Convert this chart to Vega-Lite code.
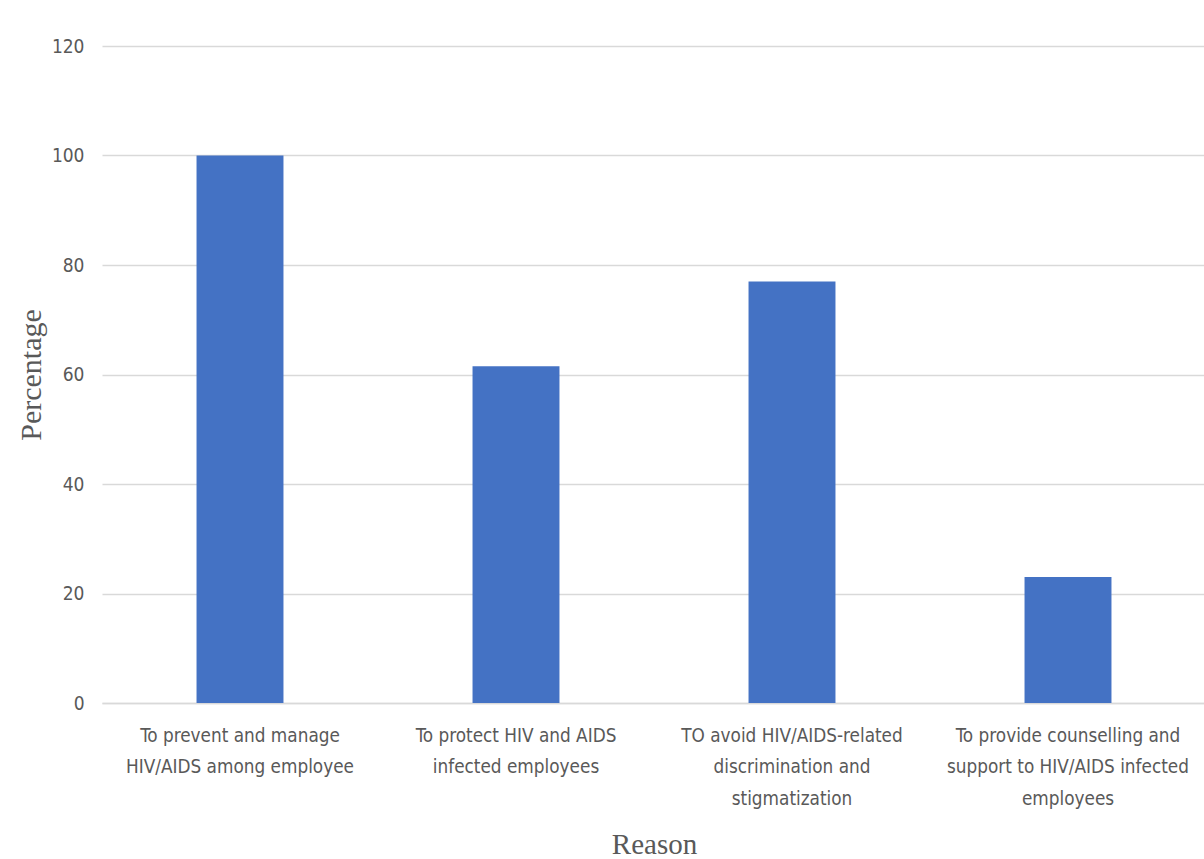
{
  "$schema": "https://vega.github.io/schema/vega-lite/v6.json",
  "width": 1104,
  "height": 657,
  "autosize": {"type": "none"},
  "padding": {"left": 102, "top": 46, "right": 0, "bottom": 156},
  "background": "white",
  "data": {
    "values": [
      {"reason": "To prevent and manage HIV/AIDS among employee", "percentage": 100},
      {"reason": "To protect HIV and AIDS infected employees", "percentage": 61.5},
      {"reason": "TO avoid HIV/AIDS-related discrimination and stigmatization", "percentage": 77},
      {"reason": "To provide counselling and support to HIV/AIDS infected employees", "percentage": 23}
    ]
  },
  "mark": {"type": "bar", "color": "#4472c4"},
  "encoding": {
    "x": {
      "field": "reason",
      "type": "nominal",
      "sort": null,
      "scale": {"paddingInner": 0.685, "paddingOuter": 0.3425},
      "axis": {
        "title": "Reason",
        "titleFont": "Liberation Serif",
        "titleFontSize": 29,
        "titleFontWeight": "normal",
        "titleColor": "#595959",
        "titlePadding": 23,
        "labelAngle": 0,
        "labelFont": "DejaVu Sans Condensed",
        "labelFontSize": 18.8,
        "labelColor": "#595959",
        "labelPadding": 23,
        "labelLineHeight": 31.5,
        "labelBaseline": "top",
        "labelLimit": 300,
        "ticks": false,
        "domainColor": "#d9d9d9",
        "domainWidth": 1.5,
        "grid": false,
        "labelExpr": "datum.value == 'To prevent and manage HIV/AIDS among employee' ? ['To prevent and manage', 'HIV/AIDS among employee'] : datum.value == 'To protect HIV and AIDS infected employees' ? ['To protect HIV and AIDS', 'infected employees'] : datum.value == 'TO avoid HIV/AIDS-related discrimination and stigmatization' ? ['TO avoid HIV/AIDS-related', 'discrimination and', 'stigmatization'] : ['To provide counselling and', 'support to HIV/AIDS infected', 'employees']"
      }
    },
    "y": {
      "field": "percentage",
      "type": "quantitative",
      "scale": {"domain": [0, 120]},
      "axis": {
        "title": "Percentage",
        "titleFont": "Liberation Serif",
        "titleFontSize": 30,
        "titleFontWeight": "normal",
        "titleColor": "#595959",
        "titlePadding": 5,
        "values": [0, 20, 40, 60, 80, 100, 120],
        "labelFont": "DejaVu Sans Condensed",
        "labelFontSize": 19,
        "labelColor": "#595959",
        "labelPadding": 18,
        "ticks": false,
        "domain": false,
        "gridColor": "#d9d9d9",
        "gridWidth": 1.5
      }
    }
  },
  "config": {"view": {"stroke": null}}
}
